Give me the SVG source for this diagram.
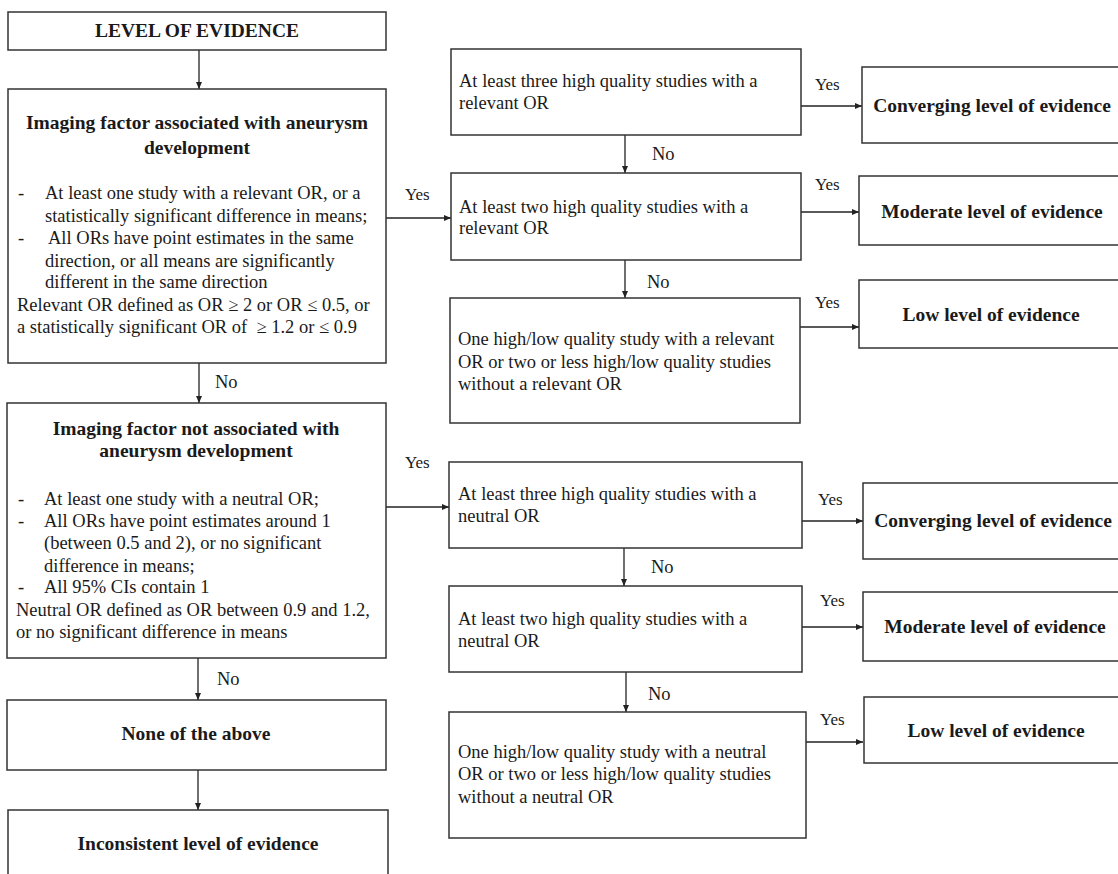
<svg xmlns="http://www.w3.org/2000/svg" width="1118" height="874" viewBox="0 0 1118 874">
<style>
.box{fill:#fff;stroke:#333;stroke-width:1.5}
.t{font-family:"Liberation Serif","Times New Roman",serif;font-size:18.5px;fill:#1a1a1a}
.b{font-family:"Liberation Serif","Times New Roman",serif;font-size:19.5px;font-weight:bold;fill:#1a1a1a;text-anchor:middle}
.y{font-family:"Liberation Serif","Times New Roman",serif;font-size:17px;fill:#1a1a1a}
.n{font-family:"Liberation Serif","Times New Roman",serif;font-size:18.5px;fill:#1a1a1a}
.c{fill:none;stroke:#222;stroke-width:1.3}
</style>
<defs>
<marker id="ah" markerUnits="userSpaceOnUse" markerWidth="8" markerHeight="7" refX="7" refY="3" orient="auto">
<path d="M0,0 L7,3 L0,6 z" fill="#222"/>
</marker>
</defs>
<rect width="1118" height="874" fill="#fff"/>

<g id="connectors">
<line class="c" x1="199" y1="50" x2="199" y2="89" marker-end="url(#ah)"/>
<line class="c" x1="386" y1="218" x2="451" y2="218" marker-end="url(#ah)"/>
<line class="c" x1="199" y1="363" x2="199" y2="403" marker-end="url(#ah)"/>
<line class="c" x1="386" y1="507" x2="449" y2="507" marker-end="url(#ah)"/>
<line class="c" x1="198" y1="658" x2="198" y2="700" marker-end="url(#ah)"/>
<line class="c" x1="198" y1="770" x2="198" y2="810" marker-end="url(#ah)"/>
<line class="c" x1="625" y1="135" x2="625" y2="173" marker-end="url(#ah)"/>
<line class="c" x1="625" y1="260" x2="625" y2="298" marker-end="url(#ah)"/>
<line class="c" x1="801" y1="106" x2="862" y2="106" marker-end="url(#ah)"/>
<line class="c" x1="801" y1="212" x2="859" y2="212" marker-end="url(#ah)"/>
<line class="c" x1="800" y1="327" x2="859" y2="327" marker-end="url(#ah)"/>
<line class="c" x1="624" y1="548" x2="624" y2="586" marker-end="url(#ah)"/>
<line class="c" x1="626" y1="672" x2="626" y2="712" marker-end="url(#ah)"/>
<line class="c" x1="802" y1="521" x2="863" y2="521" marker-end="url(#ah)"/>
<line class="c" x1="802" y1="627" x2="863" y2="627" marker-end="url(#ah)"/>
<line class="c" x1="806" y1="742" x2="863" y2="742" marker-end="url(#ah)"/>
<text class="y" x="405" y="200">Yes</text>
<text class="y" x="405" y="468">Yes</text>
<text class="n" x="215" y="388">No</text>
<text class="n" x="217" y="685">No</text>
<text class="n" x="652" y="160">No</text>
<text class="n" x="647" y="288">No</text>
<text class="n" x="651" y="573">No</text>
<text class="n" x="648" y="700">No</text>
<text class="y" x="815" y="90">Yes</text>
<text class="y" x="815" y="190">Yes</text>
<text class="y" x="815" y="308">Yes</text>
<text class="y" x="818" y="505">Yes</text>
<text class="y" x="820" y="606">Yes</text>
<text class="y" x="820" y="725">Yes</text>
</g>

<g id="level">
<rect class="box" x="8" y="12" width="378" height="38"/>
<text class="b" x="197" y="37">LEVEL OF EVIDENCE</text>
</g>

<g id="associated">
<rect class="box" x="8" y="89" width="378" height="274"/>
<text class="b" x="197" y="129">Imaging factor associated with aneurysm</text>
<text class="b" x="197" y="154">development</text>
<text class="t" x="18" y="199">-</text>
<text class="t" x="45" y="199">At least one study with a relevant OR, or a</text>
<text class="t" x="45" y="222">statistically significant difference in means;</text>
<text class="t" x="18" y="244">-</text>
<text class="t" x="48" y="244">All ORs have point estimates in the same</text>
<text class="t" x="45" y="267">direction, or all means are significantly</text>
<text class="t" x="45" y="288">different in the same direction</text>
<text class="t" x="17" y="311">Relevant OR defined as OR ≥ 2 or OR ≤ 0.5, or</text>
<text class="t" x="17" y="333" xml:space="preserve">a statistically significant OR of  ≥ 1.2 or ≤ 0.9</text>
</g>

<g id="not-associated">
<rect class="box" x="7" y="403" width="379" height="255"/>
<text class="b" x="196" y="435">Imaging factor not associated with</text>
<text class="b" x="196" y="457">aneurysm development</text>
<text class="t" x="18" y="505">-</text>
<text class="t" x="44" y="505">At least one study with a neutral OR;</text>
<text class="t" x="18" y="527">-</text>
<text class="t" x="44" y="527">All ORs have point estimates around 1</text>
<text class="t" x="44" y="549">(between 0.5 and 2), or no significant</text>
<text class="t" x="44" y="572">difference in means;</text>
<text class="t" x="18" y="593">-</text>
<text class="t" x="44" y="593">All 95% CIs contain 1</text>
<text class="t" x="16" y="616">Neutral OR defined as OR between 0.9 and 1.2,</text>
<text class="t" x="16" y="638">or no significant difference in means</text>
</g>

<g id="none">
<rect class="box" x="7" y="700" width="379" height="70"/>
<text class="b" x="196" y="740">None of the above</text>
</g>

<g id="inconsistent">
<rect class="box" x="8" y="810" width="380" height="80"/>
<text class="b" x="198" y="850">Inconsistent level of evidence</text>
</g>

<g id="r1">
<rect class="box" x="451" y="49" width="350" height="86"/>
<text class="t" x="459" y="87">At least three high quality studies with a</text>
<text class="t" x="459" y="109">relevant OR</text>
</g>
<g id="r2">
<rect class="box" x="451" y="173" width="350" height="87"/>
<text class="t" x="459" y="213">At least two high quality studies with a</text>
<text class="t" x="459" y="234">relevant OR</text>
</g>
<g id="r3">
<rect class="box" x="450" y="298" width="350" height="125"/>
<text class="t" x="458" y="345">One high/low quality study with a relevant</text>
<text class="t" x="458" y="368">OR or two or less high/low quality studies</text>
<text class="t" x="458" y="390">without a relevant OR</text>
</g>
<g id="r4">
<rect class="box" x="449" y="462" width="353" height="86"/>
<text class="t" x="458" y="500">At least three high quality studies with a</text>
<text class="t" x="458" y="522">neutral OR</text>
</g>
<g id="r5">
<rect class="box" x="449" y="586" width="353" height="86"/>
<text class="t" x="458" y="625">At least two high quality studies with a</text>
<text class="t" x="458" y="647">neutral OR</text>
</g>
<g id="r6">
<rect class="box" x="449" y="712" width="357" height="126"/>
<text class="t" x="458" y="758">One high/low quality study with a neutral</text>
<text class="t" x="458" y="780">OR or two or less high/low quality studies</text>
<text class="t" x="458" y="803">without a neutral OR</text>
</g>

<g id="conv1">
<rect class="box" x="862" y="67" width="262" height="76"/>
<text class="b" x="992" y="112">Converging level of evidence</text>
</g>
<g id="mod1">
<rect class="box" x="859" y="176" width="265" height="69"/>
<text class="b" x="992" y="218">Moderate level of evidence</text>
</g>
<g id="low1">
<rect class="box" x="859" y="280" width="265" height="68"/>
<text class="b" x="991" y="321">Low level of evidence</text>
</g>
<g id="conv2">
<rect class="box" x="863" y="483" width="261" height="76"/>
<text class="b" x="993" y="527">Converging level of evidence</text>
</g>
<g id="mod2">
<rect class="box" x="863" y="592" width="261" height="69"/>
<text class="b" x="995" y="633">Moderate level of evidence</text>
</g>
<g id="low2">
<rect class="box" x="864" y="697" width="260" height="66"/>
<text class="b" x="996" y="737">Low level of evidence</text>
</g>
</svg>
